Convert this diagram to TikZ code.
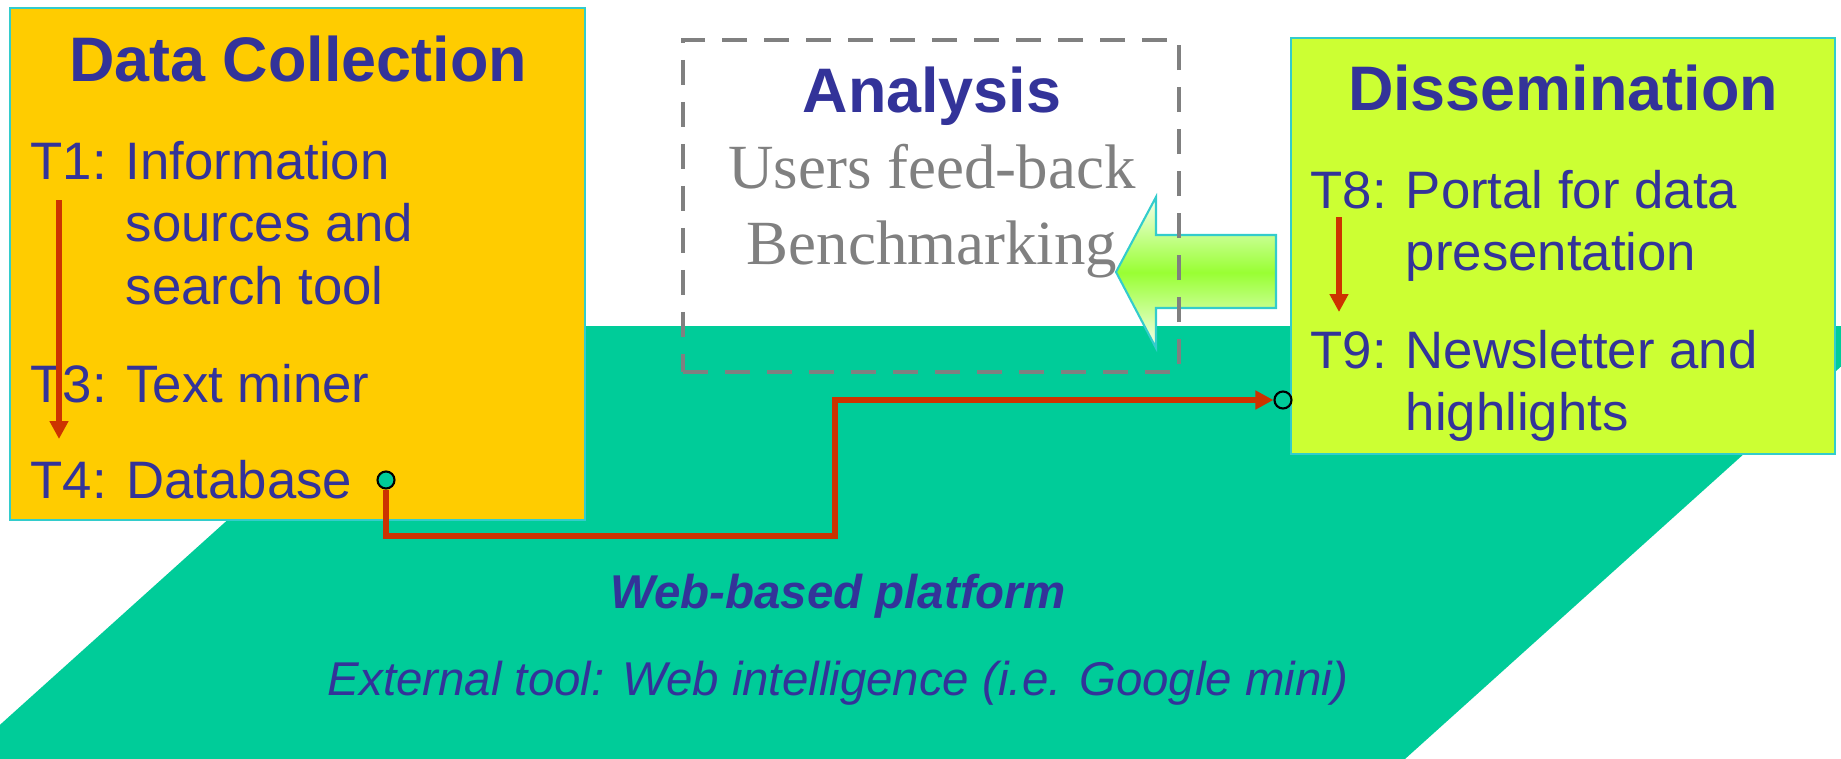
\documentclass[tikz,border=0pt]{standalone}
\usepackage{fontspec}
\setmainfont{Liberation Sans}
\newfontfamily\timesfont{Liberation Serif}
\usepackage{tikz}
\usetikzlibrary{arrows.meta,positioning,calc}

\definecolor{platform}{HTML}{00CC99}
\definecolor{gold}{HTML}{FFCC00}
\definecolor{lime}{HTML}{CCFF33}
\definecolor{leaf}{HTML}{99FF33}
\definecolor{navy}{HTML}{333399}
\definecolor{rust}{HTML}{CC3300}
\definecolor{rim}{HTML}{33CCCC}
\definecolor{ash}{HTML}{808080}

\begin{document}
\begin{tikzpicture}[
  box/.style={draw=rim,line width=0.8pt,inner sep=0pt},
  heading/.style={font=\bfseries\fontsize{17.9}{21}\selectfont,text=navy,inner sep=0pt,anchor=base},
  task/.style={font=\fontsize{15}{17.9}\selectfont,text=navy,inner sep=0pt,anchor=base west},
  remark/.style={font=\timesfont\fontsize{17.9}{21.9}\selectfont,text=ash,inner sep=0pt,anchor=base},
  caption/.style={font=\itshape\fontsize{13.5}{16}\selectfont,text=navy,inner sep=0pt,anchor=base},
  flow/.style={draw=rust,line width=1.5pt,-{Triangle[length=0.18cm,width=0.18cm]}},
  port/.style={circle,draw=black,line width=0.6pt,fill=platform,minimum size=0.17cm,inner sep=0pt}
]
  \useasboundingbox (0,0) rectangle (18.41,-7.59);

  % platform underneath
  \begin{scope}
    \clip (0,0) rectangle (18.41,-7.59);
    \fill[platform] (4.43,-3.26) -- (18.86,-3.26) -- (14.05,-7.59) -- (-0.38,-7.59) -- cycle;
  \end{scope}

  % feed-back arrow
  \draw[draw=rim,line width=0.6pt,top color=leaf!8!white,bottom color=leaf!8!white,middle color=leaf]
    (11.16,-2.72) -- (11.56,-1.97) -- (11.56,-2.35) -- (12.76,-2.35) -- (12.76,-3.08)
    -- (11.56,-3.08) -- (11.56,-3.48) -- cycle;

  \node[draw=ash,line width=1.1pt,dash pattern=on 0.25cm off 0.17cm,
        minimum width=4.96cm,minimum height=3.32cm] (analysis) at (9.31,-2.06) {};
  \node[box,fill=gold,minimum width=5.75cm,minimum height=5.12cm] (collect) at (2.975,-2.64) {};
  \node[box,fill=lime,minimum width=5.44cm,minimum height=4.16cm] (dissem) at (15.63,-2.46) {};

  \node[heading] (dctitle) at (2.98,-0.81) {Data Collection};
  \node[heading] (antitle) at (9.32,-1.12) {Analysis};
  \node[heading] (dstitle) at (15.63,-1.10) {Dissemination};

  \node[remark] (feed) at (9.32,-1.88)
    {\begin{tabular}[t]{@{}c@{}}Users feed-back\\Benchmarking\end{tabular}};

  \node[task] (t1) at (0.30,-1.79)
    {\begin{tabular}[t]{@{}l@{\hspace{0.19cm}}l@{}}T1: & Information\\ & sources and\\ & search tool\end{tabular}};
  \node[task] (t3) at (0.30,-4.02) {T3: Text miner};
  \node[task] (t4) at (0.30,-4.98) {T4: Database};

  \node[task] (t8) at (13.10,-2.08)
    {\begin{tabular}[t]{@{}l@{\hspace{0.19cm}}l@{}}T8: & Portal for data\\ & presentation\end{tabular}};
  \node[task] (t9) at (13.10,-3.68)
    {\begin{tabular}[t]{@{}l@{\hspace{0.19cm}}l@{}}T9: & Newsletter and\\ & highlights\end{tabular}};

  \node[caption,font=\bfseries\itshape\fontsize{13.5}{16}\selectfont] (web) at (8.38,-6.08) {Web-based platform};
  \node[caption] (ext) at (8.38,-6.95) {External tool: Web intelligence (i.e. Google mini)};

  \draw[flow] ($(t1.base west)+(0.29,-0.21)$) -- ($(t4.base west)+(0.29,0.59)$);
  \draw[flow] ($(t8.base west)+(0.29,-0.09)$) -- ($(t9.base west)+(0.29,0.56)$);

  \node[port] (dbport) at (3.86,-4.80) {};
  \node[port] (nlport) at (12.83,-4.00) {};
  \coordinate (bend) at (8.35,-5.36);
  \draw[flow] (dbport) |- (bend) |- (nlport);
\end{tikzpicture}
\end{document}
